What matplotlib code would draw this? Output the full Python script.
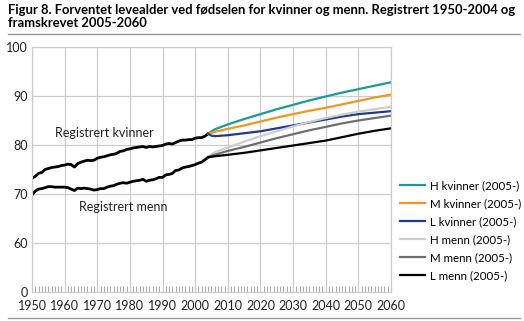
import matplotlib.pyplot as plt
import numpy as np

plt.rcParams['font.family'] = ['Lato', 'DejaVu Sans']

# registrert 1950-2004
aar_reg = list(range(1950, 2005))
kvinner_reg = [73.2, 73.6, 74.2, 74.4, 75.0, 75.2, 75.4, 75.5, 75.6, 75.8,
               75.9, 76.1, 76.0, 75.5, 76.2, 76.5, 76.7, 76.9, 76.8, 76.9,
               77.3, 77.5, 77.6, 77.8, 78.0, 78.1, 78.3, 78.7, 78.8, 79.1,
               79.2, 79.4, 79.5, 79.6, 79.7, 79.5, 79.7, 79.6, 79.7, 79.8,
               79.9, 80.2, 80.3, 80.2, 80.5, 80.8, 81.0, 81.0, 81.1, 81.1,
               81.4, 81.5, 81.5, 81.8, 82.3]
menn_reg = [69.8, 70.6, 71.0, 71.1, 71.3, 71.5, 71.5, 71.4, 71.4, 71.4,
            71.4, 71.3, 71.0, 70.7, 71.2, 71.1, 71.2, 71.1, 71.0, 70.8,
            70.9, 71.1, 71.1, 71.4, 71.6, 71.7, 72.0, 72.2, 72.3, 72.2,
            72.4, 72.6, 72.7, 72.8, 73.0, 72.6, 72.8, 72.9, 73.1, 73.4,
            73.4, 73.9, 74.0, 74.2, 74.8, 74.9, 75.3, 75.5, 75.6, 75.8,
            76.0, 76.3, 76.5, 77.0, 77.5]

# framskrevet 2005-2060
aar_fr = [2004, 2005, 2006, 2010, 2015, 2020, 2025, 2030, 2035, 2040, 2045, 2050, 2055, 2060]
h_kvinner = [82.3, 82.8, 83.2, 84.2, 85.3, 86.3, 87.3, 88.2, 89.1, 89.9, 90.7, 91.4, 92.1, 92.8]
m_kvinner = [82.3, 82.5, 82.7, 83.3, 84.0, 84.8, 85.6, 86.3, 87.0, 87.6, 88.3, 89.0, 89.7, 90.3]
l_kvinner = [82.3, 81.9, 81.8, 82.0, 82.4, 82.8, 83.4, 84.0, 84.6, 85.2, 85.8, 86.3, 86.6, 86.9]
h_menn = [77.5, 78.1, 78.5, 79.5, 80.7, 81.8, 82.8, 83.8, 84.7, 85.5, 86.2, 86.8, 87.3, 87.8]
m_menn = [77.5, 77.8, 78.0, 78.8, 79.6, 80.5, 81.4, 82.2, 83.0, 83.7, 84.4, 85.0, 85.5, 86.0]
l_menn = [77.5, 77.6, 77.7, 78.0, 78.4, 78.9, 79.4, 79.9, 80.4, 80.9, 81.6, 82.3, 82.9, 83.4]

serier = [('H kvinner (2005-)', h_kvinner, '#1a9c96'),
          ('M kvinner (2005-)', m_kvinner, '#f7941d'),
          ('L kvinner (2005-)', l_kvinner, '#1f3a93'),
          ('H menn (2005-)', h_menn, '#cdcdcd'),
          ('M menn (2005-)', m_menn, '#6e6e6e'),
          ('L menn (2005-)', l_menn, '#000000')]

fig = plt.figure(figsize=(5.24, 3.21), dpi=100)
ax = fig.add_axes([32 / 524, 29 / 321, 359 / 524, 245 / 321])

ax.plot(aar_reg, kvinner_reg, color='black', lw=2)
ax.plot(aar_reg, menn_reg, color='black', lw=2)
for navn, verdier, farge in serier:
    ax.plot(aar_fr, verdier, color=farge, lw=1.6, label=navn)

ax.set_xlim(1950, 2060)
ax.set_ylim(50, 100)
ax.set_xticks(range(1950, 2061, 10))
ax.set_yticks([50, 60, 70, 80, 90, 100])
ax.set_yticklabels(['0', '60', '70', '80', '90', '100'])
ax.set_xticks(range(1950, 2061), minor=True)
ax.tick_params(axis='both', which='major', length=0, labelsize=9, colors='#222222', pad=3)
ax.tick_params(axis='x', which='minor', direction='in', length=4, color='#a8a8a8', width=0.7)
ax.tick_params(axis='x', which='major', pad=6)
ax.grid(True, which='major', color='#cccccc', lw=0.9)
for s in ax.spines.values():
    s.set_color('#cccccc')
    s.set_linewidth(0.9)
ax.set_axisbelow(True)

ax.text(1957, 81.6, 'Registrert kvinner', fontsize=9, color='#222222')
ax.text(1964.5, 66.6, 'Registrert menn', fontsize=9, color='#222222')

fig.text(8 / 524, 1 - 4 / 321, 'Figur 8. Forventet levealder ved fødselen for kvinner og menn. Registrert 1950-2004 og\nframskrevet 2005-2060',
         fontsize=9.4, fontweight='bold', va='top', ha='left', linespacing=1.1)
fig.add_artist(plt.Line2D([8 / 524, 520 / 524], [1 - 34 / 321, 1 - 34 / 321], color='#999999', lw=1))
fig.add_artist(plt.Line2D([8 / 524, 520 / 524], [1 - 318 / 321, 1 - 318 / 321], color='#999999', lw=1))

fig.legend(loc='upper left', bbox_to_anchor=(390 / 524, 1 - 170 / 321), frameon=False,
           fontsize=8.3, handlelength=2.1, labelspacing=0.6, handletextpad=0.5)

fig.savefig('out.png', dpi=100)
